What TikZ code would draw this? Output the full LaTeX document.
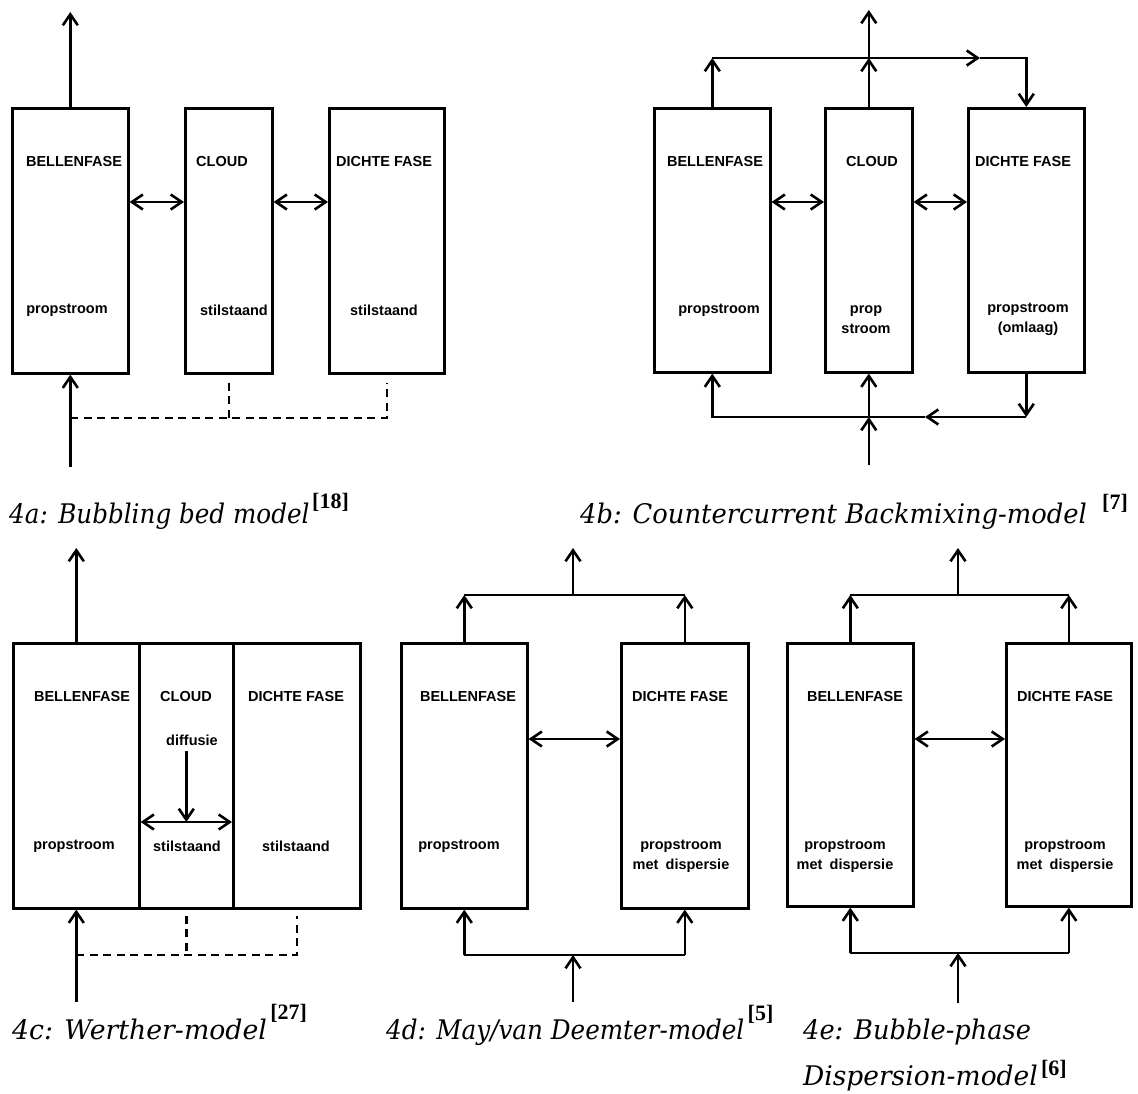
\documentclass[tikz,border=0pt]{standalone}
\usepackage{fontspec}
\setmainfont{Liberation Sans}
\newfontfamily\capfont{DejaVu Serif}
\newfontfamily\reffont{Liberation Serif}
\usetikzlibrary{arrows.meta}

% caption text, squeezed horizontally by the factor #1
\newcommand\capsq[2]{\scalebox{#1}[1]{#2}}

\tikzset{
  phase/.style={draw, line width=2.6pt, inner sep=0pt, anchor=north west},
  lbl/.style={font=\fontsize{14.5}{20}\selectfont\bfseries, inner sep=0pt, align=center},
  flow/.style={line width=2.6pt, -{Straight Barb[length=11pt,width=15pt]}},
  twoway/.style={line width=2.6pt, {Straight Barb[length=11pt,width=15pt]}-{Straight Barb[length=11pt,width=15pt]}},
  plainline/.style={line width=2.6pt},
  link/.style={line width=2.6pt, dash pattern=on 8pt off 5.5pt},
  figcap/.style={font=\capfont\itshape\fontsize{27}{30}\selectfont, anchor=base west, inner sep=0pt},
  citemark/.style={font=\reffont\bfseries\fontsize{22}{24}\selectfont, anchor=base west, inner sep=0pt},
}

\begin{document}
\begin{tikzpicture}[x=1pt, y=-1pt]
\useasboundingbox (0,0) rectangle (1138,1094);
\fill[white] (0,0) rectangle (1138,1094);

% ---------- 4a: bubbling bed ----------
\node[phase, minimum width=116pt, minimum height=265pt] (aB) at (11,107) {};
\node[phase, minimum width=87pt,  minimum height=265pt] (aC) at (184,107) {};
\node[phase, minimum width=115pt, minimum height=265pt] (aD) at (328,107) {};
\node[lbl] (aBt) at (74,162)  {BELLENFASE};
\node[lbl] (aCt) at (222,162) {CLOUD};
\node[lbl] (aDt) at (384,162) {DICHTE FASE};
\node[lbl] (aBs) at (67,310)  {propstroom};
\node[lbl] (aCs) at (234,310) {stilstaand};
\node[lbl] (aDs) at (384,310) {stilstaand};
\coordinate (aOut) at (aB.north |- 0,12);
\coordinate (aIn)  at (aB.south |- 0,467);
\coordinate (aJ)   at (aB.south |- 0,418);
\draw[flow] (aB.north) -- (aOut);
\draw[flow] (aIn) -- (aB.south);
\draw[twoway] (aB.east |- 0,202) -- (aC.west |- 0,202);
\draw[twoway] (aC.east |- 0,202) -- (aD.west |- 0,202);
\draw[link] (aJ) -| ([yshift=-8pt]aD.south);
\draw[link] ([yshift=-8pt]aC.south) -- (aC.south |- aJ);
\node[figcap] (aCap) at (9,523) {\capsq{0.913}{4a: Bubbling bed model}};
\node[citemark] (aRef) at (312,508) {[18]};

% ---------- 4b: countercurrent backmixing ----------
\node[phase, minimum width=116pt, minimum height=264pt] (bB) at (653,107) {};
\node[phase, minimum width=87pt,  minimum height=264pt] (bC) at (824,107) {};
\node[phase, minimum width=116pt, minimum height=264pt] (bD) at (967,107) {};
\node[lbl] (bBt) at (715,162)  {BELLENFASE};
\node[lbl] (bCt) at (872,162)  {CLOUD};
\node[lbl] (bDt) at (1023,162) {DICHTE FASE};
\node[lbl] (bBs) at (719,310)  {propstroom};
\node[lbl] (bCs) at (866,320)  {prop\\stroom};
\node[lbl] (bDs) at (1028,319) {propstroom\\(omlaag)};
\coordinate (bTL)  at (bB.north |- 0,58);
\coordinate (bTM)  at (bC.north |- 0,58);
\coordinate (bTR)  at (bD.north |- 0,58);
\coordinate (bTA)  at (980,58);
\coordinate (bOut) at (bC.north |- 0,10);
\coordinate (bBL)  at (bB.south |- 0,417);
\coordinate (bBM)  at (bC.south |- 0,417);
\coordinate (bBR)  at (bD.south |- 0,417);
\coordinate (bBA)  at (925,417);
\coordinate (bIn)  at (bC.south |- 0,465);
\draw[flow] (bB.north) -- (bTL);
\draw[flow] (bTL) -- (bTA);
\draw[flow] (bTA) -- (bTR) -- (bD.north);
\draw[flow] (bC.north) -- (bTM);
\draw[flow] (bTM) -- (bOut);
\draw[flow] (bD.south) -- (bBR);
\draw[flow] (bBR) -- (bBA);
\draw[flow] (bBA) -- (bBL) -- (bB.south);
\draw[flow] (bIn) -- (bBM);
\draw[flow] (bBM) -- (bC.south);
\draw[twoway] (bB.east |- 0,202) -- (bC.west |- 0,202);
\draw[twoway] (bC.east |- 0,202) -- (bD.west |- 0,202);
\node[figcap] (bCap) at (580,523) {\capsq{0.955}{4b: Countercurrent Backmixing-model}};
\node[citemark] (bRef) at (1102,509) {[7]};

% ---------- 4c: Werther ----------
\node[phase, minimum width=126pt, minimum height=265pt] (cB) at (12,642) {};
\node[phase, minimum width=94pt,  minimum height=265pt] (cC) at (138,642) {};
\node[phase, minimum width=127pt, minimum height=265pt] (cD) at (232,642) {};
\node[lbl] (cBt) at (82,697)  {BELLENFASE};
\node[lbl] (cCt) at (186,697) {CLOUD};
\node[lbl] (cDt) at (296,697) {DICHTE FASE};
\node[lbl] (cDif) at (192,740) {diffusie};
\node[lbl] (cBs) at (74,846)  {propstroom};
\node[lbl] (cCs) at (187,846) {stilstaand};
\node[lbl] (cDs) at (296,846) {stilstaand};
\coordinate (cHit) at (cC.center |- 0,822);
\coordinate (cOut) at (cB.north |- 0,548);
\coordinate (cIn)  at (cB.south |- 0,1002);
\coordinate (cJ)   at (cB.south |- 0,955);
\draw[flow] (cB.north) -- (cOut);
\draw[flow] (cIn) -- (cB.south);
\draw[flow] ([yshift=-5pt]cHit |- cDif.south) -- (cHit);
\draw[twoway] (cB.east |- cHit) -- (cD.west |- cHit);
\draw[link] (cJ) -| ([yshift=-6pt]cD.south);
\draw[link] ([yshift=-6pt]cC.south) -- (cC.south |- cJ);
\node[figcap] (cCap) at (12,1039) {\capsq{0.99}{4c: Werther-model}};
\node[citemark] (cRef) at ([xshift=3pt,yshift=20pt]cCap.base east) {[27]};

% ---------- 4d: May / van Deemter ----------
\node[phase, minimum width=126pt, minimum height=265pt] (dB) at (400,642) {};
\node[phase, minimum width=127pt, minimum height=265pt] (dD) at (620,642) {};
\node[lbl] (dBt) at (468,697) {BELLENFASE};
\node[lbl] (dDt) at (680,697) {DICHTE FASE};
\node[lbl] (dBs) at (459,846) {propstroom};
\node[lbl] (dDs) at (681,856) {propstroom\\met\enspace dispersie};
\coordinate (dTL)  at (dB.north |- 0,595);
\coordinate (dTR)  at (dD.north |- 0,595);
\coordinate (dTop) at (573,595);
\coordinate (dOut) at (573,548);
\coordinate (dBL)  at (dB.south |- 0,955);
\coordinate (dBR)  at (dD.south |- 0,955);
\coordinate (dBot) at (573,955);
\coordinate (dIn)  at (573,1002);
\draw[flow] (dB.north) -- (dTL);
\draw[flow] (dD.north) -- (dTR);
\draw[plainline] (dTL) -- (dTR);
\draw[flow] (dTop) -- (dOut);
\draw[twoway] (dB.east |- 0,739) -- (dD.west |- 0,739);
\draw[plainline] (dBL) -- (dBR);
\draw[flow] (dBL) -- (dB.south);
\draw[flow] (dBR) -- (dD.south);
\draw[flow] (dIn) -- (dBot);
\node[figcap] (dCap) at (386,1039) {\capsq{0.913}{4d: May/van Deemter-model}};
\node[citemark] (dRef) at ([xshift=3pt,yshift=19pt]dCap.base east) {[5]};

% ---------- 4e: bubble-phase dispersion ----------
\node[phase, minimum width=126pt, minimum height=263pt] (eB) at (786,642) {};
\node[phase, minimum width=125pt, minimum height=263pt] (eD) at (1005,642) {};
\node[lbl] (eBt) at (855,697)  {BELLENFASE};
\node[lbl] (eDt) at (1065,697) {DICHTE FASE};
\node[lbl] (eBs) at (845,856)  {propstroom\\met\enspace dispersie};
\node[lbl] (eDs) at (1065,856) {propstroom\\met\enspace dispersie};
\coordinate (eTL)  at (eB.north |- 0,595);
\coordinate (eTR)  at (eD.north |- 0,595);
\coordinate (eTop) at (958,595);
\coordinate (eOut) at (958,548);
\coordinate (eBL)  at (eB.south |- 0,953);
\coordinate (eBR)  at (eD.south |- 0,953);
\coordinate (eBot) at (958,953);
\coordinate (eIn)  at (958,1003);
\draw[flow] (eB.north) -- (eTL);
\draw[flow] (eD.north) -- (eTR);
\draw[plainline] (eTL) -- (eTR);
\draw[flow] (eTop) -- (eOut);
\draw[twoway] (eB.east |- 0,739) -- (eD.west |- 0,739);
\draw[plainline] (eBL) -- (eBR);
\draw[flow] (eBL) -- (eB.south);
\draw[flow] (eBR) -- (eD.south);
\draw[flow] (eIn) -- (eBot);
\node[figcap] (eCap)  at (803,1039) {\capsq{0.95}{4e: Bubble-phase}};
\node[figcap] (eCap2) at (803,1085) {\capsq{0.98}{Dispersion-model}};
\node[citemark] (eRef) at ([xshift=3pt,yshift=10pt]eCap2.base east) {[6]};
\end{tikzpicture}
\end{document}
